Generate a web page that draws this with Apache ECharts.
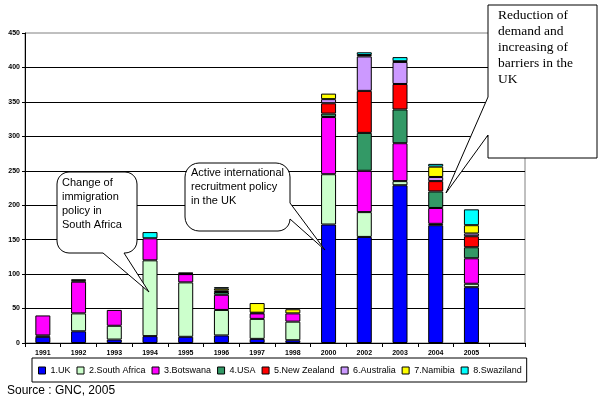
<!DOCTYPE html>
<html>
<head>
<meta charset="utf-8">
<script src="https://cdn.jsdelivr.net/npm/echarts@6/dist/echarts.min.js"></script>
<style>
html,body{margin:0;padding:0;background:#fff;}
#chart{width:600px;height:401px;}
</style>
</head>
<body>
<div id="chart"></div>
<script>
var categories = ['1991','1992','1993','1994','1995','1996','1997','1998','2000','2002','2003','2004','2005',''];
var seriesNames = ['1.UK','2.South Africa','3.Botswana','4.USA','5.New Zealand','6.Australia','7.Namibia','8.Swaziland'];
var uk        = [9, 17, 5, 10, 9, 11, 6, 4, 172, 154, 229, 171, 81];
var southAfrica = [2, 26, 20, 110, 79, 37, 29, 27, 73, 36, 6, 2, 5];
var botswana  = [29, 46, 23, 32, 12, 22, 8, 12, 83, 60, 55, 23, 37];
var usa       = [0, 2, 0, 0, 1, 4, 0, 0, 5, 55, 49, 24, 16];
var newZealand = [0, 1, 0, 0, 1, 2, 1, 0, 15, 61, 37, 15, 16];
var australia = [0, 0, 0, 0, 0, 0, 0, 0, 6, 50, 32, 6, 4];
var namibia   = [0, 0, 0, 0, 0, 3, 14, 6, 8, 2, 1, 15, 12];
var swaziland = [0, 0, 0, 9, 0, 2, 0, 0, 0, 4, 6, 4, 23];
var yTicks = [0, 50, 100, 150, 200, 250, 300, 350, 400, 450];

var colors = ['#0000FF','#CCFFCC','#FF00FF','#339966','#FF0000','#CC99FF','#FFFF00','#00FFFF'];
var allData = [uk, southAfrica, botswana, usa, newZealand, australia, namibia, swaziland];

var chart = echarts.init(document.getElementById('chart'), null, {renderer:'canvas'});
var series = allData.map(function(arr, i){
  return {
    name: seriesNames[i],
    type: 'bar',
    stack: 'total',
    barWidth: 15,
    data: arr.map(function(v){ return v === 0 ? null : v; }),
    itemStyle: { color: colors[i], borderColor: '#000', borderWidth: 1 },
    emphasis: { disabled: true },
    animation: false
  };
});

// corner arc points: center (cx,cy), radius r, from angle a0 to a1 (degrees)
function arc(cx, cy, r, a0, a1){
  var pts = [], n = 6;
  for (var k = 0; k <= n; k++){
    var a = (a0 + (a1 - a0) * k / n) * Math.PI / 180;
    pts.push([cx + r * Math.cos(a), cy + r * Math.sin(a)]);
  }
  return pts;
}
function poly(points){
  return { type:'polygon', shape:{ points: points }, style:{ fill:'#fff', stroke:'#000', lineWidth:1 }, z: 100, silent:true };
}
function label(x, y, text, font, lh){
  return { type:'text', x:x, y:y, z:101, silent:true,
    style:{ text:text, font:font, fill:'#000', lineHeight: lh } };
}

var b1 = [].concat(
  arc(69, 184, 12, 180, 270),
  arc(125, 184, 12, 270, 360),
  arc(125, 241, 12, 0, 90),
  [[124, 253], [149, 292], [103, 253]],
  arc(69, 241, 12, 90, 180)
);
var b2 = [].concat(
  arc(199, 177, 14, 180, 270),
  arc(276, 177, 14, 270, 360),
  [[290, 203], [325, 250], [290, 219]],
  arc(278, 219, 12, 0, 90),
  arc(199, 217, 14, 90, 180)
);
var b3 = [[488, 5], [597, 5], [597, 158], [488, 158], [488, 135], [446, 193], [488, 97]];

var option = {
  animation: false,
  color: colors,
  grid: { left: 25, right: 75, top: 33, bottom: 58, show: true, borderColor: '#808080', borderWidth: 1 },
  legend: {
    data: seriesNames,
    left: 32, top: 358,
    width: 560,
    itemWidth: 7, itemHeight: 7,
    itemGap: 6,
    padding: [8, 5, 7, 6],
    borderColor: '#000', borderWidth: 1,
    icon: 'rect',
    itemStyle: { borderColor: '#000', borderWidth: 1 },
    textStyle: { fontFamily: 'Liberation Sans, Arial', fontSize: 9, color: '#000' },
    selectedMode: false
  },
  xAxis: {
    type: 'category',
    data: categories,
    boundaryGap: true,
    axisLine: { lineStyle: { color: '#000', width: 1 } },
    axisTick: { show: true, alignWithLabel: false, length: 4, lineStyle: { color: '#000' } },
    axisLabel: { fontFamily: 'Liberation Sans, Arial', fontSize: 7, fontWeight: 'bold', color: '#000', margin: 7, interval: 0 }
  },
  yAxis: {
    type: 'value',
    min: yTicks[0], max: yTicks[yTicks.length-1], interval: 50,
    axisLine: { show: true, lineStyle: { color: '#000', width: 1 } },
    axisTick: { show: true, length: 3, lineStyle: { color: '#000' } },
    axisLabel: { fontFamily: 'Liberation Sans, Arial', fontSize: 7, fontWeight: 'bold', color: '#000', margin: 5 },
    splitLine: { show: true, showMaxLine: false, lineStyle: { color: '#000', width: 1 } }
  },
  series: series,
  graphic: [
    poly(b1),
    label(62, 176, 'Change of\nimmigration\npolicy in\nSouth Africa', '11px "Liberation Sans", Arial', 14),
    poly(b2),
    label(191, 166, 'Active international\nrecruitment policy\nin the UK', '11px "Liberation Sans", Arial', 14),
    poly(b3),
    label(498, 7, 'Reduction of\ndemand and\nincreasing of\nbarriers in the\nUK', '13.5px "Liberation Serif", "Times New Roman", serif', 16),
    label(7, 384, 'Source : GNC, 2005', '12px "Liberation Sans", Arial', 14)
  ]
};
chart.setOption(option);
</script>
</body>
</html>
